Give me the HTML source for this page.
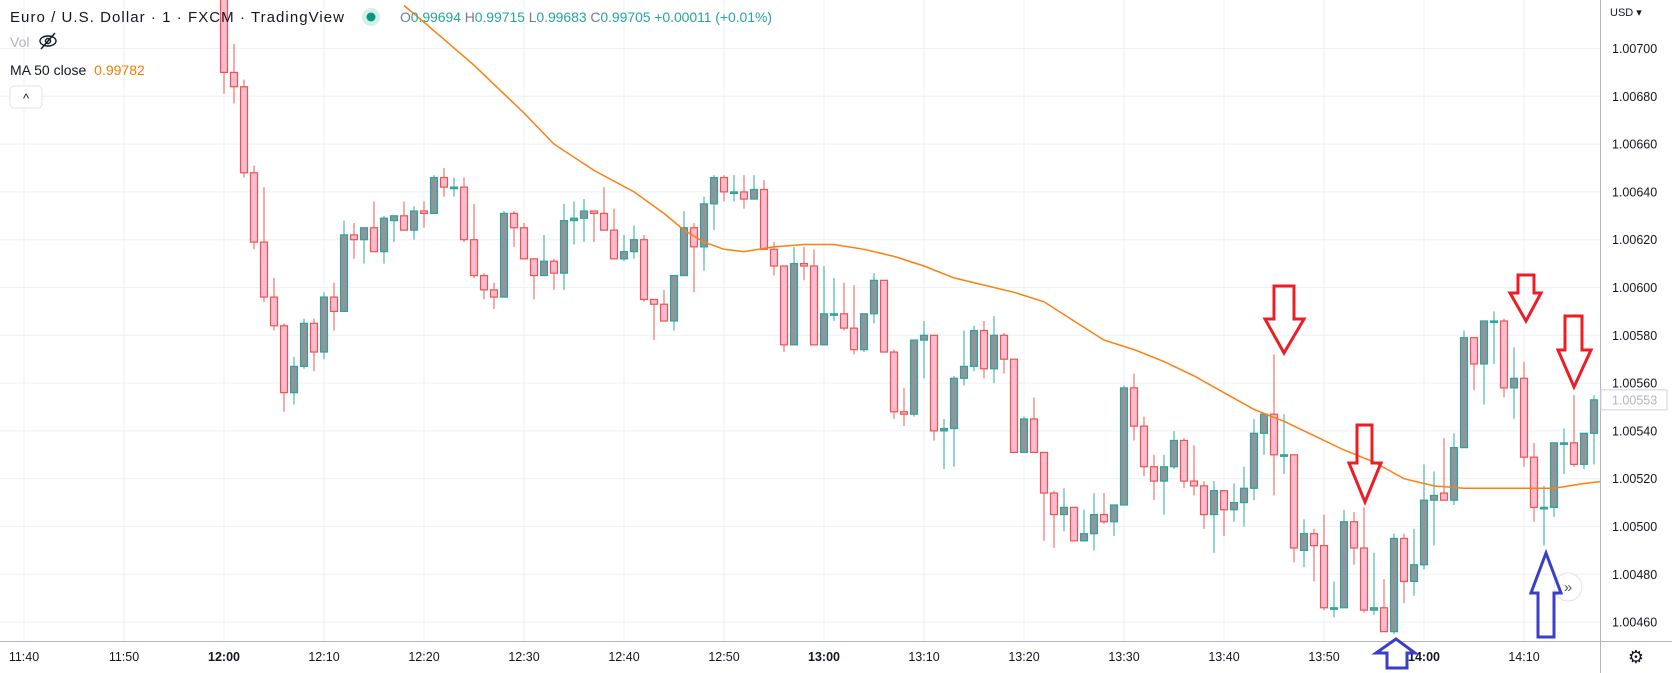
<!DOCTYPE html>
<html><head><meta charset="utf-8"><style>
html,body{margin:0;padding:0;background:#fff;}
svg{display:block;font-family:"Liberation Sans",sans-serif;}
</style></head><body>
<svg id="chart" width="1672" height="673" viewBox="0 0 1672 673" xmlns="http://www.w3.org/2000/svg">
<defs><clipPath id="plotClip"><rect x="0" y="0" width="1600" height="641"/></clipPath></defs>
<rect x="0" y="0" width="1672" height="673" fill="#fff"/>
<g id="grid"></g>
<g id="plot" clip-path="url(#plotClip)"></g>
<g id="axes"></g>
<g id="annotations">
  <polygon points="1274,286 1294,286 1294,319 1304,319 1284,353 1265,319 1274,319" fill="none" stroke="#ee1c25" stroke-width="3"/>
  <polygon points="1357,425 1372,425 1372,463 1381,463 1365,502 1349,463 1357,463" fill="none" stroke="#ee1c25" stroke-width="3"/>
  <polygon points="1518,275 1534,275 1534,293 1541,293 1526,321 1510,293 1518,293" fill="none" stroke="#ee1c25" stroke-width="3"/>
  <polygon points="1565,316 1582,316 1582,350 1591,350 1574,387 1558,350 1565,350" fill="none" stroke="#ee1c25" stroke-width="3"/>
  <polygon points="1396,639 1415,653 1407,653 1407,668 1387,668 1387,653 1376,653" fill="#fff" stroke="#3a3fc8" stroke-width="3"/>
  <polygon points="1546,553 1561,593 1554,593 1554,637 1538,637 1538,593 1531,593" fill="none" stroke="#3a3fc8" stroke-width="3"/>
</g>
<g>
  <circle cx="1568" cy="587" r="14" fill="#fff" stroke="#e0e3eb"/>
  <text x="1568" y="592" font-size="15" text-anchor="middle" fill="#50535e">»</text>
</g>
<g>
  <text x="10" y="22" font-size="15" fill="#131722" textLength="334">Euro / U.S. Dollar · 1 · FXCM · TradingView</text>
  <circle cx="371" cy="17" r="9" fill="#d5efe9"/>
  <circle cx="371" cy="17" r="4.5" fill="#089981"/>
  <text x="400" y="22" font-size="14" fill="#26a69a" textLength="372"><tspan fill="#787b86">O</tspan>0.99694 <tspan fill="#787b86">H</tspan>0.99715 <tspan fill="#787b86">L</tspan>0.99683 <tspan fill="#787b86">C</tspan>0.99705 +0.00011 (+0.01%)</text>
  <text x="10" y="47" font-size="14" fill="#b2b5be">Vol</text>
  <g stroke="#131722" stroke-width="1.4" fill="none">
    <ellipse cx="48" cy="41" rx="8" ry="5"/><circle cx="48" cy="41" r="2.5"/><line x1="41" y1="49" x2="55" y2="33"/>
  </g>
  <text x="10" y="75" font-size="14" fill="#131722">MA 50 close <tspan fill="#f57c00" dx="4">0.99782</tspan></text>
  <g>
    <rect x="10" y="86" width="32" height="22" rx="4" fill="#fff" stroke="#e0e3eb"/>
    <text x="26" y="103" font-size="13" text-anchor="middle" fill="#131722">^</text>
  </g>
</g>
</svg>
<script>
const candleMinutes = [];
for (let i = 0; i < 138; i++) candleMinutes.push(i);
const opens = [1.00740,1.00690,1.00684,1.00648,1.00619,1.00596,1.00584,1.00556,1.00567,1.00585,1.00573,1.00596,1.00590,1.00622,1.00620,1.00625,1.00615,1.00628,1.00630,1.00624,1.00632,1.00631,1.00646,1.00642,1.00642,1.00620,1.00605,1.00599,1.00596,1.00631,1.00625,1.00612,1.00605,1.00611,1.00606,1.00628,1.00629,1.00632,1.00631,1.00624,1.00612,1.00615,1.00620,1.00595,1.00593,1.00586,1.00605,1.00625,1.00617,1.00635,1.00646,1.00640,1.00640,1.00637,1.00641,1.00616,1.00609,1.00576,1.00610,1.00609,1.00576,1.00589,1.00589,1.00583,1.00574,1.00589,1.00603,1.00573,1.00548,1.00547,1.00578,1.00580,1.00540,1.00541,1.00562,1.00567,1.00582,1.00566,1.00580,1.00570,1.00531,1.00545,1.00531,1.00514,1.00505,1.00508,1.00494,1.00497,1.00505,1.00502,1.00509,1.00558,1.00542,1.00525,1.00519,1.00525,1.00536,1.00519,1.00517,1.00505,1.00515,1.00507,1.00510,1.00516,1.00539,1.00547,1.00530,1.00530,1.00490,1.00497,1.00492,1.00466,1.00466,1.00502,1.00491,1.00465,1.00466,1.00456,1.00495,1.00477,1.00484,1.00511,1.00514,1.00511,1.00533,1.00579,1.00568,1.00586,1.00586,1.00558,1.00562,1.00529,1.00508,1.00508,1.00535,1.00535,1.00526,1.00539];
const highs = [1.00745,1.00702,1.00687,1.00651,1.00642,1.00604,1.00585,1.00571,1.00587,1.00587,1.00598,1.00602,1.00628,1.00627,1.00625,1.00636,1.00630,1.00630,1.00636,1.00634,1.00636,1.00647,1.00650,1.00646,1.00646,1.00635,1.00606,1.00602,1.00632,1.00632,1.00627,1.00612,1.00622,1.00612,1.00635,1.00636,1.00637,1.00632,1.00642,1.00633,1.00622,1.00626,1.00622,1.00595,1.00599,1.00605,1.00632,1.00627,1.00638,1.00647,1.00647,1.00647,1.00647,1.00647,1.00645,1.00619,1.00609,1.00617,1.00617,1.00616,1.00609,1.00604,1.00602,1.00601,1.00589,1.00606,1.00603,1.00574,1.00558,1.00578,1.00586,1.00580,1.00545,1.00563,1.00582,1.00584,1.00586,1.00588,1.00581,1.00570,1.00546,1.00554,1.00531,1.00515,1.00516,1.00508,1.00507,1.00514,1.00514,1.00509,1.00559,1.00564,1.00546,1.00530,1.00530,1.00540,1.00537,1.00534,1.00519,1.00519,1.00515,1.00518,1.00525,1.00545,1.00547,1.00572,1.00547,1.00530,1.00503,1.00499,1.00505,1.00477,1.00507,1.00506,1.00508,1.00489,1.00478,1.00497,1.00497,1.00499,1.00526,1.00523,1.00537,1.00539,1.00582,1.00579,1.00586,1.00590,1.00587,1.00575,1.00569,1.00535,1.00517,1.00535,1.00541,1.00555,1.00539,1.00555];
const lows = [1.00681,1.00677,1.00646,1.00616,1.00594,1.00582,1.00548,1.00551,1.00566,1.00565,1.00570,1.00582,1.00590,1.00612,1.00610,1.00615,1.00610,1.00619,1.00624,1.00620,1.00625,1.00631,1.00638,1.00638,1.00619,1.00604,1.00595,1.00591,1.00596,1.00617,1.00612,1.00595,1.00605,1.00599,1.00599,1.00618,1.00619,1.00619,1.00624,1.00612,1.00611,1.00612,1.00594,1.00578,1.00586,1.00582,1.00605,1.00598,1.00607,1.00624,1.00636,1.00636,1.00633,1.00637,1.00616,1.00605,1.00573,1.00576,1.00603,1.00576,1.00576,1.00586,1.00582,1.00572,1.00573,1.00585,1.00573,1.00545,1.00542,1.00546,1.00562,1.00536,1.00524,1.00525,1.00559,1.00565,1.00562,1.00560,1.00564,1.00531,1.00531,1.00531,1.00494,1.00491,1.00498,1.00494,1.00494,1.00490,1.00501,1.00496,1.00509,1.00536,1.00521,1.00511,1.00505,1.00524,1.00516,1.00513,1.00499,1.00489,1.00496,1.00502,1.00500,1.00511,1.00530,1.00513,1.00522,1.00485,1.00483,1.00477,1.00465,1.00462,1.00466,1.00484,1.00464,1.00463,1.00456,1.00455,1.00468,1.00471,1.00482,1.00492,1.00511,1.00509,1.00533,1.00557,1.00551,1.00568,1.00554,1.00545,1.00525,1.00502,1.00492,1.00504,1.00522,1.00525,1.00524,1.00526];
const closes = [1.00690,1.00684,1.00648,1.00619,1.00596,1.00584,1.00556,1.00567,1.00585,1.00573,1.00596,1.00590,1.00622,1.00620,1.00625,1.00615,1.00629,1.00630,1.00624,1.00632,1.00631,1.00646,1.00642,1.00642,1.00620,1.00605,1.00599,1.00596,1.00631,1.00625,1.00612,1.00605,1.00611,1.00606,1.00628,1.00629,1.00632,1.00631,1.00624,1.00612,1.00615,1.00620,1.00595,1.00593,1.00586,1.00605,1.00625,1.00617,1.00635,1.00646,1.00640,1.00640,1.00637,1.00641,1.00616,1.00609,1.00576,1.00610,1.00609,1.00576,1.00589,1.00589,1.00583,1.00574,1.00589,1.00603,1.00573,1.00548,1.00547,1.00578,1.00580,1.00540,1.00541,1.00562,1.00567,1.00582,1.00566,1.00580,1.00570,1.00531,1.00545,1.00531,1.00514,1.00505,1.00508,1.00494,1.00497,1.00505,1.00502,1.00509,1.00558,1.00542,1.00525,1.00519,1.00525,1.00536,1.00519,1.00517,1.00505,1.00515,1.00507,1.00510,1.00516,1.00539,1.00547,1.00530,1.00530,1.00491,1.00497,1.00492,1.00466,1.00466,1.00502,1.00491,1.00465,1.00466,1.00456,1.00495,1.00477,1.00484,1.00511,1.00513,1.00511,1.00533,1.00579,1.00568,1.00586,1.00586,1.00558,1.00562,1.00529,1.00508,1.00508,1.00535,1.00535,1.00526,1.00539,1.00553];
const maMinutes = [18,20,25,30,33,37,41,44,46,48,50,52,55,58,61,64,67,70,73,76,79,82,85,88,91,94,97,100,103,106,109,112,115,118,121,124,127,130,133,136,138];
const maValues = [1.00718,1.00711,1.00693,1.00673,1.00660,1.00649,1.00640,1.00631,1.00624,1.00619,1.00616,1.00615,1.00617,1.00618,1.00618,1.00616,1.00613,1.00609,1.00604,1.00601,1.00598,1.00594,1.00586,1.00578,1.00574,1.00569,1.00563,1.00556,1.00549,1.00544,1.00538,1.00532,1.00527,1.00520,1.00517,1.00516,1.00516,1.00516,1.00516,1.00518,1.00519];
const priceTicks = [1.00700,1.00680,1.00660,1.00640,1.00620,1.00600,1.00580,1.00560,1.00540,1.00520,1.00500,1.00480,1.00460];
const timeTickMinutes = [-20,-10,0,10,20,30,40,50,60,70,80,90,100,110,120,130];
const timeTickLabels = ["11:40","11:50","12:00","12:10","12:20","12:30","12:40","12:50","13:00","13:10","13:20","13:30","13:40","13:50","14:00","14:10"];
const lastPrice = 1.00553;

const NS = "http://www.w3.org/2000/svg";
function xOf(m){ return 224 + 10*m; }
function yOf(p){ return 287.5 + (1.00600 - p)/0.0002*47.8; }
function mk(tag, attrs, parent){ const e=document.createElementNS(NS,tag); for(const k in attrs) e.setAttribute(k,attrs[k]); parent.appendChild(e); return e; }

const grid=document.getElementById('grid'), plot=document.getElementById('plot'), axes=document.getElementById('axes');
priceTicks.forEach(p=>{
  const l=mk('line',{x1:0,x2:1600,y1:yOf(p),y2:yOf(p),stroke:'#eef1f5','stroke-width':1},grid);
  
  
});
timeTickMinutes.forEach(m=>{
  const l=mk('line',{x1:xOf(m),x2:xOf(m),y1:0,y2:641,stroke:'#eef1f5','stroke-width':1},grid);
  
  
});
// candles
candleMinutes.forEach((m,i)=>{
  const o=opens[i],h=highs[i],l=lows[i],c=closes[i];
  const up=c>=o;
  const x=xOf(m);
  const g=mk('g',{},plot);
  
  
  mk('line',{x1:x,x2:x,y1:yOf(h),y2:yOf(l),stroke:up?'#26a69a':'#ef5350','stroke-width':1.2,'stroke-opacity':0.8},g);
  const top=yOf(Math.max(o,c)), bot=yOf(Math.min(o,c));
  mk('rect',{x:x-3.5,y:top,width:7,height:Math.max(1.5,bot-top),fill:up?'#93939b':'#f8bbd0',stroke:up?'#26a69a':'#ef5350','stroke-width':1.2},g);
});
// MA line
let d='';
maMinutes.forEach((m,i)=>{ d+=(i?'L':'M')+xOf(m)+','+yOf(maValues[i]).toFixed(1); });
const ma=mk('path',{d:d,fill:'none',stroke:'#ff7f0e','stroke-width':1.5},plot);


// axes
mk('line',{x1:1600.5,x2:1600.5,y1:0,y2:673,stroke:'#b2b5be'},axes);
mk('line',{x1:0,x2:1672,y1:641.5,y2:641.5,stroke:'#b2b5be'},axes);
const usd=mk('text',{x:1610,y:16,'font-size':11,fill:'#131722'},axes); usd.textContent='USD ▾';


priceTicks.forEach(p=>{
  const t=mk('text',{x:1612,y:yOf(p)+4.5,'font-size':12.5,fill:'#131722'},axes);
  t.textContent=p.toFixed(5);
  
  
});
const lpY=yOf(lastPrice);
const lpr=mk('rect',{x:1601,y:lpY-10,width:66,height:20,fill:'#fff',stroke:'#d1d4dc'},axes);


const lpt=mk('text',{x:1612,y:lpY+4.5,'font-size':12.5,fill:'#b2b5be'},axes); lpt.textContent=lastPrice.toFixed(5);
timeTickMinutes.forEach((m,i)=>{
  const lab=timeTickLabels[i];
  const bold=(lab==='12:00'||lab==='13:00'||lab==='14:00');
  const t=mk('text',{x:xOf(m),y:661,'font-size':12.5,'text-anchor':'middle',fill:'#131722','font-weight':bold?'bold':'normal'},axes);
  t.textContent=lab;
  
  
});
const gear=mk('text',{x:1636,y:663,'font-size':18,'text-anchor':'middle',fill:'#131722'},axes); gear.textContent='⚙';


// bring annotations to front
const svg=document.getElementById('chart');
svg.appendChild(document.getElementById('annotations'));
</script>
</body></html>
